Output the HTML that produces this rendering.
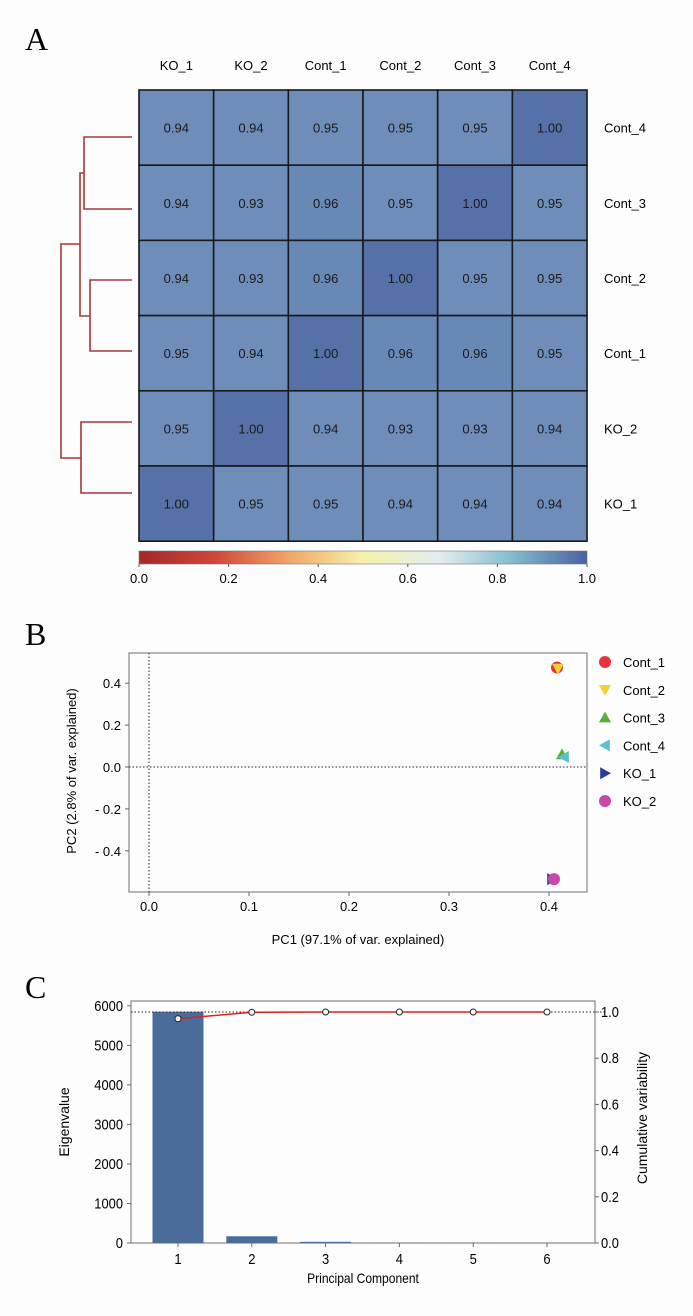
<!DOCTYPE html>
<html><head><meta charset="utf-8"><style>
html,body{margin:0;padding:0;background:#fdfdfd}
svg{display:block;font-family:"Liberation Sans",sans-serif}
.n{font-family:"Liberation Sans Narrow","Liberation Sans",sans-serif}
</style></head><body>
<svg id="fig" width="693" height="1316" viewBox="0 0 693 1316" xmlns="http://www.w3.org/2000/svg">
<defs>
<linearGradient id="cb" x1="0" x2="1" y1="0" y2="0">
<stop offset="0" stop-color="#a3282a"/><stop offset="0.17" stop-color="#d0463a"/>
<stop offset="0.33" stop-color="#f0a464"/><stop offset="0.5" stop-color="#f6f2aa"/>
<stop offset="0.67" stop-color="#e2eef0"/><stop offset="0.83" stop-color="#86bccd"/>
<stop offset="1" stop-color="#4a62a2"/></linearGradient>
</defs>
<text x="25" y="50" font-family="Liberation Serif" font-size="32">A</text>
<text x="25" y="645" font-family="Liberation Serif" font-size="32">B</text>
<text x="25" y="998" font-family="Liberation Serif" font-size="32">C</text>
<g id="heat"></g>
<g id="dendro" stroke="#a33a3a" stroke-width="1.6" fill="none"></g>
<g id="colorbar">
<rect x="139" y="551" width="448" height="13" fill="url(#cb)" stroke="#777" stroke-width="0.6"/>
</g>
<g id="pca"></g>
<g id="scree"></g>
</svg>
<script>
const NS="http://www.w3.org/2000/svg";
function mk(p,t,a,txt){const e=document.createElementNS(NS,t);for(const k in a)e.setAttribute(k,a[k]);if(txt!==undefined)e.textContent=txt;p.appendChild(e);return e;}

// ---------- Heatmap data ----------
const colLabels=["KO_1","KO_2","Cont_1","Cont_2","Cont_3","Cont_4"];
const rowLabels=["Cont_4","Cont_3","Cont_2","Cont_1","KO_2","KO_1"];
const matrix=[
[0.94,0.94,0.95,0.95,0.95,1.00],
[0.94,0.93,0.96,0.95,1.00,0.95],
[0.94,0.93,0.96,1.00,0.95,0.95],
[0.95,0.94,1.00,0.96,0.96,0.95],
[0.95,1.00,0.94,0.93,0.93,0.94],
[1.00,0.95,0.95,0.94,0.94,0.94]];
const cbTicks=[0,0.2,0.4,0.6,0.8,1.0];

// ---------- PCA data ----------
const pcaNames=["Cont_1","Cont_2","Cont_3","Cont_4","KO_1","KO_2"];
const pc1=[0.408,0.409,0.413,0.415,0.403,0.405];
const pc2=[0.475,0.47,0.06,0.048,-0.535,-0.535];
const pcaColors=["#e8323c","#f0d230","#55b035","#5cc0cc","#2c3c98","#c848a8"];
const pcaShapes=["circle","down","up","left","right","circle"];
const pcXTicks=[0,0.1,0.2,0.3,0.4];
const pcYTicks=[0.4,0.2,0,-0.2,-0.4];

// ---------- Scree data ----------
const comps=[1,2,3,4,5,6];
const eigen=[5850,170,30,3,1,0];
const cumVar=[0.971,0.999,1.0,1.0,1.0,1.0];
const eigTicks=[0,1000,2000,3000,4000,5000,6000];
const cumTicks=[0,0.2,0.4,0.6,0.8,1.0];

// Heatmap
const heat=document.getElementById('heat');
const hx=139,hy=90,cw=74.67,ch=75.2;
function cellColor(v){return v>=0.995?"#5670a8":(v>=0.955?"#6888b6":"#6e8db9");}
colLabels.forEach((c,j)=>{const t=mk(heat,'text',{x:hx+cw*(j+0.5),y:70,'text-anchor':'middle','font-size':13},c);
});
rowLabels.forEach((r,i)=>{const t=mk(heat,'text',{x:604,y:hy+ch*(i+0.5)+5,'font-size':13},r);
});
matrix.forEach((row,i)=>row.forEach((v,j)=>{
 const r=mk(heat,'rect',{x:hx+cw*j,y:hy+ch*i,width:cw,height:ch,fill:cellColor(v),stroke:'#1a1a1a','stroke-width':1.6});
 
 const t=mk(heat,'text',{x:hx+cw*(j+0.5),y:hy+ch*(i+0.5)+5,'text-anchor':'middle','font-size':13,fill:'#1a1a1a'},v.toFixed(2));
 
}));
// Dendrogram
const dg=document.getElementById('dendro');
[["M132 137H84V209H132"],["M132 280H90V351H132"],["M84 173H80V316H90"],["M132 422H81V493H132"],["M80 244H61V458H81"]].forEach(d=>{
 const p=mk(dg,'path',{d:d[0]});});
// Colorbar ticks
const cbg=document.getElementById('colorbar');
cbTicks.forEach(v=>{const x=139+448*v;mk(cbg,'line',{x1:x,x2:x,y1:564,y2:567,stroke:'#555'});
 const t=mk(cbg,'text',{x:x,y:583,'text-anchor':'middle','font-size':13},v.toFixed(1));
 });

// PCA
const pg=document.getElementById('pca');
const bx0=129,bx1=587,by0=653,by1=892;
const sx=v=>149+v*1000, sy=v=>767-v*209.5;
mk(pg,'rect',{x:bx0,y:by0,width:bx1-bx0,height:by1-by0,fill:'none',stroke:'#888','stroke-width':1.2});
mk(pg,'line',{x1:sx(0),x2:sx(0),y1:by0,y2:by1,stroke:'#222','stroke-dasharray':'1.5,2'});
mk(pg,'line',{x1:bx0,x2:bx1,y1:sy(0),y2:sy(0),stroke:'#222','stroke-dasharray':'1.5,2'});
pcXTicks.forEach(v=>{const x=sx(v);mk(pg,'line',{x1:x,x2:x,y1:by1,y2:by1+4,stroke:'#666'});
 const t=mk(pg,'text',{x:x,y:911,'text-anchor':'middle','font-size':13},v.toFixed(1));
 });
pcYTicks.forEach(v=>{const y=sy(v);mk(pg,'line',{x1:bx0-4,x2:bx0,y1:y,y2:y,stroke:'#666'});
 const t=mk(pg,'text',{x:bx0-8,y:y+5,'text-anchor':'end','font-size':13},(v<0?'- '+(-v).toFixed(1):v.toFixed(1)));
 });
let t=mk(pg,'text',{x:358,y:944,'text-anchor':'middle','font-size':13},'PC1 (97.1% of var. explained)');

t=mk(pg,'text',{x:0,y:0,'text-anchor':'middle','font-size':13,transform:'translate(76,771) rotate(-90)'},'PC2 (2.8% of var. explained)');

function marker(p,shape,cx,cy,r,col){
 if(shape==='circle')return mk(p,'circle',{cx:cx,cy:cy,r:r,fill:col});
 let pts;
 if(shape==='down')pts=[[cx-r,cy-r*0.8],[cx+r,cy-r*0.8],[cx,cy+r]];
 if(shape==='up')pts=[[cx-r,cy+r*0.8],[cx+r,cy+r*0.8],[cx,cy-r]];
 if(shape==='left')pts=[[cx+r*0.8,cy-r],[cx+r*0.8,cy+r],[cx-r,cy]];
 if(shape==='right')pts=[[cx-r*0.8,cy-r],[cx-r*0.8,cy+r],[cx+r,cy]];
 return mk(p,'polygon',{points:pts.map(q=>q.join(',')).join(' '),fill:col});}
pc1.forEach((v,i)=>{const m=marker(pg,pcaShapes[i],sx(v),sy(pc2[i]),6,pcaColors[i]);
 
 });
pcaNames.forEach((n,i)=>{const y=662+27.8*i;
 const m=marker(pg,pcaShapes[i],605,y,6,pcaColors[i]);
 
 const tt=mk(pg,'text',{x:623,y:y+5,'font-size':13},n);
 });

// Scree
const sg=document.getElementById('scree');
const cx0=131,cx1=595,cy0=1001,cy1=1243;
const ex=c=>178+(c-1)*73.8, ey=v=>cy1-v*0.03953, ry=v=>cy1-v*231;
mk(sg,'rect',{x:cx0,y:cy0,width:cx1-cx0,height:cy1-cy0,fill:'none',stroke:'#888','stroke-width':1.2});
comps.forEach((c,i)=>{const r=mk(sg,'rect',{x:ex(c)-25.5,y:ey(eigen[i]),width:51,height:cy1-ey(eigen[i]),fill:'#4a6c9a'});
 
 mk(sg,'line',{x1:ex(c),x2:ex(c),y1:cy1,y2:cy1+4,stroke:'#666'});
 const tt=mk(sg,'text',{x:ex(c),y:1264,'text-anchor':'middle','font-size':15,class:'n'},String(c));
 });
mk(sg,'line',{x1:cx0,x2:cx1+12,y1:ry(1),y2:ry(1),stroke:'#222','stroke-dasharray':'1.5,2'});
const line=mk(sg,'polyline',{points:comps.map((c,i)=>ex(c)+','+ry(cumVar[i])).join(' '),fill:'none',stroke:'#e02020','stroke-width':1.5});

comps.forEach((c,i)=>{const p=mk(sg,'circle',{cx:ex(c),cy:ry(cumVar[i]),r:3,fill:'#fff',stroke:'#222','stroke-width':1});
 });
eigTicks.forEach(v=>{const y=ey(v);mk(sg,'line',{x1:cx0-4,x2:cx0,y1:y,y2:y,stroke:'#666'});
 const tt=mk(sg,'text',{x:cx0-8,y:y+5,'text-anchor':'end','font-size':15,class:'n'},String(v));
 });
cumTicks.forEach(v=>{const y=ry(v);mk(sg,'line',{x1:cx1,x2:cx1+4,y1:y,y2:y,stroke:'#666'});
 const tt=mk(sg,'text',{x:cx1+6,y:y+5,'font-size':15,class:'n'},v.toFixed(1));
 });
t=mk(sg,'text',{x:363,y:1283,'text-anchor':'middle','font-size':14,class:'n'},'Principal Component');

t=mk(sg,'text',{x:0,y:0,'text-anchor':'middle','font-size':14,transform:'translate(69,1122) rotate(-90)'},'Eigenvalue');

t=mk(sg,'text',{x:0,y:0,'text-anchor':'middle','font-size':14,transform:'translate(647,1118) rotate(-90)'},'Cumulative variability');

// condense narrow-font labels
document.querySelectorAll('text.n').forEach(e=>{const L=e.getComputedTextLength();if(L>0){e.setAttribute('textLength',(L*0.86).toFixed(1));e.setAttribute('lengthAdjust','spacingAndGlyphs');}});
</script>
</body></html>
